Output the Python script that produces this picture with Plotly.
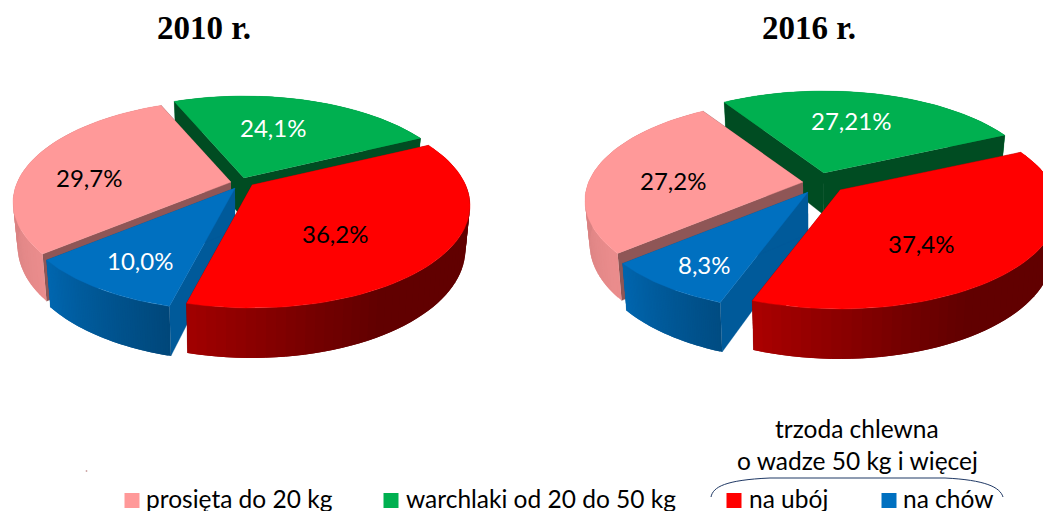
import math
import numpy as np
import plotly.graph_objects as go

# ---- data ----
categories = ["na ubój", "na chów", "prosięta do 20 kg", "warchlaki od 20 do 50 kg"]
values_2010 = [36.2, 10.0, 29.7, 24.1]
values_2016 = [37.4, 8.3, 27.2, 27.21]
labels_2010 = ["36,2%", "10,0%", "29,7%", "24,1%"]
labels_2016 = ["37,4%", "8,3%", "27,2%", "27,21%"]
colors = ["#FF0000", "#0070C0", "#FF9999", "#00B050"]
label_colors = ["black", "white", "black", "white"]
inner_factor = [0.5, 0.8, 0.56, 0.43]

SHRINK = 0.02

fig = go.Figure()


def rgb(hexc, f):
    r, g, b = int(hexc[1:3], 16), int(hexc[3:5], 16), int(hexc[5:7], 16)
    return f"rgb({r*f:.0f},{g*f:.0f},{b*f:.0f})"


def shade(t):
    t = t % 360
    return float(np.interp(t, [0, 60, 75, 105, 141, 165, 190, 360],
                           [0.38, 0.38, 0.45, 0.64, 0.92, 0.86, 0.85, 0.85]))


def poly(pts, color, lw=0.0):
    fig.add_trace(go.Scatter(x=[p[0] for p in pts], y=[p[1] for p in pts], mode="lines", fill="toself",
                             fillcolor=color, line=dict(color=color, width=lw),
                             hoverinfo="skip", showlegend=False))


def pie(values, cx, start, P, K, R, apexes, labels, label_pos):
    total = sum(values)
    t = start
    spans = []
    for v in values:
        d = 360 * v / total
        spans.append((t, t + d))
        t += d

    # painter's order: back (green, pink) to front (blue, red)
    for i in [3, 2, 1, 0]:
        ax, ay = apexes[i]
        t0, t1 = spans[i]
        ts = np.linspace(t0, t1, 61)
        base = colors[i]

        def top(a):
            u, v = math.cos(math.radians(a)), math.sin(math.radians(a))
            s = 1 / (1 - P * v)
            return (ax + R * u * s, ay + K * v * s, v)

        def low(p):
            return (p[0] + (cx - p[0]) * SHRINK, p[1] + 42 + 8 * p[2])

        rim = [top(a) for a in ts]
        apex = (ax, ay, 0.0)

        def wall(front):
            for j in range(len(rim) - 1):
                mid = (ts[j] + ts[j + 1]) / 2
                if (math.sin(math.radians(mid)) > 0) != front:
                    continue
                k = min(j + 2, len(rim) - 1)
                poly([rim[j], rim[k], low(rim[k]), low(rim[j])], rgb(base, shade(mid)))

        wall(False)
        for e in (rim[0], rim[-1]):
            poly([apex, e, low(e), low(apex)], rgb(base, inner_factor[i]), 0.3)
        wall(True)
        poly([apex] + rim, base, 0.4)
    for i, (lab, pos) in enumerate(zip(labels, label_pos)):
        fig.add_annotation(x=pos[0], y=pos[1], text=lab, showarrow=False,
                           font=dict(family="Lato", size=24, color=label_colors[i]))


pie(values_2010, 242, -26.0, 0.2, 98.4, 213.6,
    [(252, 185), (235, 188), (231, 182), (244, 178)], labels_2010,
    [(335, 233), (140, 260), (89, 177), (273, 127)])
pie(values_2016, 818, -24.7, 0.184, 97.1, 214.3,
    [(840, 190), (808, 192), (803, 182), (824, 173)], labels_2016,
    [(921, 243), (704, 264), (673, 180), (851, 120)])


def text(x, y, s, anchor="left", size=24.5, family="Lato", bold=False):
    fig.add_annotation(x=x, y=y, text=f"<b>{s}</b>" if bold else s, showarrow=False, xanchor=anchor,
                       font=dict(family=family, size=size, color="black"))


text(204, 28, "2010 r.", "center", 33, "Liberation Serif", True)
text(809, 28, "2016 r.", "center", 33, "Liberation Serif", True)
text(857, 428, "trzoda chlewna", "center")
text(857, 460, "o wadze 50 kg i więcej", "center")

legend_x = [132, 391, 734, 889]
legend_t = [144, 404, 747, 901]
for idx, cat_i in enumerate([2, 3, 0, 1]):
    fig.add_trace(go.Scatter(x=[legend_x[idx]], y=[500.5], mode="markers",
                             marker=dict(symbol="square", size=15, color=colors[cat_i], line=dict(width=0)),
                             hoverinfo="skip", showlegend=False))
    text(legend_t[idx], 498, categories[cat_i])

# tiny speck
fig.add_trace(go.Scatter(x=[86.5], y=[471], mode="markers", marker=dict(symbol="square", size=1.5, color="#C09090"),
                         hoverinfo="skip", showlegend=False))

fig.update_layout(
    width=1043, height=511, margin=dict(l=0, r=0, t=0, b=0),
    paper_bgcolor="white", plot_bgcolor="white", showlegend=False,
    xaxis=dict(range=[0, 1043], visible=False, fixedrange=True),
    yaxis=dict(range=[511, 0], visible=False, fixedrange=True),
    shapes=[dict(type="path", path="M 711 497 C 713 487 725 480 770 478 L 945 478 C 985 480 1000 487 1003 497",
                 line=dict(color="#1F3864", width=1))],
)
fig.write_html("out.html", config={"displayModeBar": False},
               post_script="document.body.style.margin='0';document.body.style.overflow='hidden';")
